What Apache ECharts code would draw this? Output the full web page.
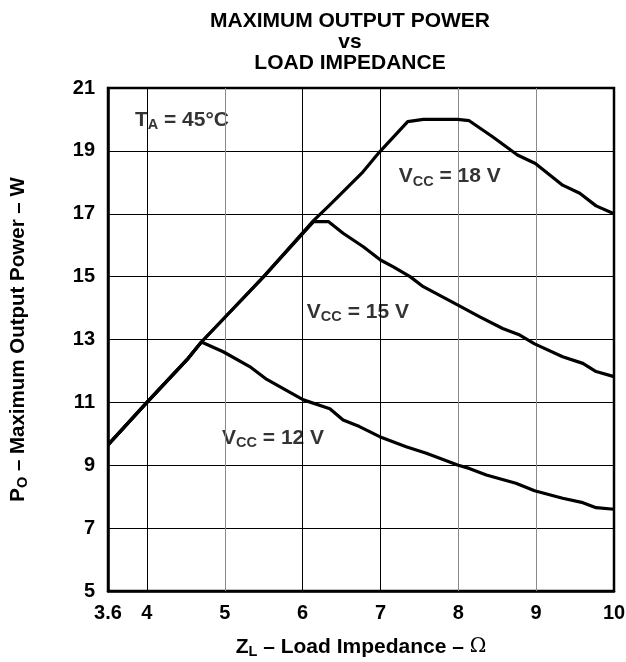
<!DOCTYPE html>
<html>
<head>
<meta charset="utf-8">
<script src="https://cdn.jsdelivr.net/npm/echarts@6/dist/echarts.min.js"></script>
<style>
  html, body { margin: 0; padding: 0; background: #fff; }
  #chart { width: 626px; height: 662px; }
</style>
</head>
<body>
<div id="chart"></div>
<script>
// load impedance (ohm) and output power (W)
const z12 = [3.5, 4.0, 4.53, 4.7, 4.98, 5.32, 5.54, 6.01, 6.35, 6.52, 6.73, 6.99, 7.33, 7.59, 8.0, 8.14, 8.36, 8.74, 8.98, 9.34, 9.6, 9.77, 10.0]
const p12 = [9.65, 11.0, 12.4, 12.92, 12.61, 12.14, 11.73, 11.08, 10.8, 10.44, 10.23, 9.91, 9.59, 9.38, 9.0, 8.9, 8.69, 8.43, 8.19, 7.95, 7.81, 7.65, 7.6]

const z15 = [3.5, 4.0, 4.53, 4.7, 5.0, 5.5, 6.14, 6.33, 6.52, 6.78, 7.0, 7.16, 7.38, 7.55, 7.99, 8.27, 8.57, 8.79, 8.98, 9.34, 9.6, 9.77, 10.0]
const p15 = [9.65, 11.0, 12.4, 12.92, 13.7, 15.0, 16.75, 16.75, 16.38, 15.95, 15.53, 15.32, 15.0, 14.68, 14.1, 13.73, 13.35, 13.14, 12.86, 12.45, 12.24, 11.98, 11.82]

const z18 = [3.5, 4.0, 4.53, 4.7, 5.0, 5.5, 6.14, 6.35, 6.76, 6.99, 7.35, 7.55, 7.99, 8.14, 8.44, 8.76, 8.99, 9.34, 9.56, 9.77, 10.0]
const p18 = [9.65, 11.0, 12.4, 12.92, 13.7, 15.0, 16.78, 17.28, 18.29, 18.97, 19.93, 20.0, 20.0, 19.96, 19.45, 18.87, 18.6, 17.91, 17.65, 17.25, 17.0]

// vertical grid lines (some are printed grey)
const gridZ = [4, 5, 6, 7, 8, 9]
const gridGrey = [false, true, false, false, true, true]

// curve labels, anchored in data units
const noteVcc = ['12', '15', '18']
const noteZ = [5.62, 6.71, 7.89]
const noteP = [9.87, 13.88, 18.18]

const pairs = (xs, ys) => xs.map((x, i) => [x, ys[i]])

const FONT = 'Liberation Sans, Arial, sans-serif'
const richText = {
  m: { fontFamily: FONT, fontWeight: 'bold', fontSize: 21, color: '#000', lineHeight: 24 },
  s: { fontFamily: FONT, fontWeight: 'bold', fontSize: 14.5, color: '#000', lineHeight: 24, padding: [10, 0, 0, 0] },
  o: { fontFamily: 'DejaVu Serif, serif', fontWeight: 'normal', fontSize: 20, color: '#000', lineHeight: 24 }
}
const richY = {
  m: { fontFamily: FONT, fontWeight: 'bold', fontSize: 20.5, color: '#000', lineHeight: 24 },
  s: { fontFamily: FONT, fontWeight: 'bold', fontSize: 14.5, color: '#000', lineHeight: 24, padding: [10, 0, 0, 0] }
}

const curve = (name, data) => ({
  name: name,
  type: 'line',
  data: data,
  showSymbol: false,
  symbol: 'none',
  z: 5,
  lineStyle: { color: '#000', width: 3.2, join: 'round' }
})

const notes = noteZ.map((z, i) => ({
  value: [z, noteP[i]],
  label: { formatter: '{m|V}{s|CC}{m| = ' + noteVcc[i] + ' V}' }
}))
notes.push({
  value: [4.45, 19.98],
  label: { formatter: '{m|T}{s|A}{m| = 45°C}' }
})

const chart = echarts.init(document.getElementById('chart'), null, { renderer: 'canvas' })
chart.setOption({
  animation: false,
  title: {
    text: 'MAXIMUM OUTPUT POWER\nvs\nLOAD IMPEDANCE',
    left: 345,
    top: 6,
    textAlign: 'center',
    textStyle: { fontFamily: FONT, fontWeight: 'bold', fontSize: 21, lineHeight: 21, color: '#000' }
  },
  grid: {
    left: 108, right: 12, top: 88, bottom: 71,
    outerBoundsMode: 'none',
    containLabel: false,
    show: true, borderColor: '#000', borderWidth: 2.5, backgroundColor: '#fff'
  },
  xAxis: {
    type: 'value',
    min: 3.5,
    max: 10,
    interval: 0.5,
    name: '{m|Z}{s|L}{m| – Load Impedance – }{o|Ω}',
    nameLocation: 'middle',
    nameGap: 44,
    nameTextStyle: { rich: richText },
    axisLine: { show: true, lineStyle: { color: '#000', width: 2.5 } },
    axisTick: { show: false },
    splitLine: { show: false },
    axisLabel: {
      margin: 12,
      fontFamily: FONT, fontWeight: 'bold', fontSize: 20, color: '#000',
      formatter: v => (v === 3.5 ? '3.6' : (Number.isInteger(v) ? String(v) : ''))
    }
  },
  yAxis: {
    type: 'value',
    min: 5,
    max: 21,
    interval: 2,
    name: '{m|P}{s|O}{m| – Maximum Output Power – W}',
    nameLocation: 'middle',
    nameRotate: 90,
    nameGap: 78,
    nameTextStyle: { rich: richY },
    axisLine: { show: true, lineStyle: { color: '#000', width: 2.5 } },
    axisTick: { show: false },
    splitLine: { show: true, lineStyle: { color: '#000', width: 1 } },
    axisLabel: { margin: 13, fontFamily: FONT, fontWeight: 'bold', fontSize: 20, color: '#000' }
  },
  series: [
    {
      type: 'line',
      data: [],
      z: 1,
      silent: true,
      markLine: {
        silent: true,
        symbol: 'none',
        label: { show: false },
        data: gridZ.map((z, i) => ({
          xAxis: z,
          lineStyle: { color: gridGrey[i] ? '#8a8a8a' : '#000', width: 1, type: 'solid' }
        }))
      }
    },
    {
      type: 'scatter',
      data: notes,
      symbolSize: 0,
      z: 3,
      silent: true,
      label: {
        show: true,
        position: 'inside',
        backgroundColor: '#fff',
        padding: [6, 4],
        rich: richText
      }
    },
    curve('VCC = 12 V', pairs(z12, p12)),
    curve('VCC = 15 V', pairs(z15, p15)),
    curve('VCC = 18 V', pairs(z18, p18))
  ]
})
</script>
</body>
</html>
